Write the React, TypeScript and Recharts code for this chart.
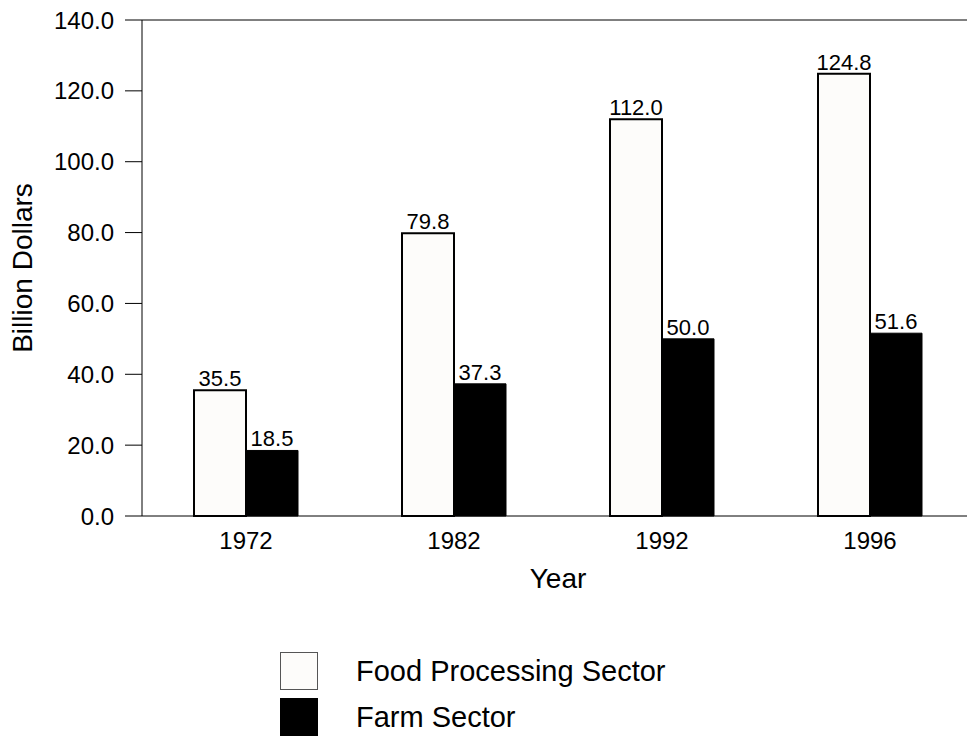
import React from "react";
import {
  BarChart,
  Bar,
  XAxis,
  YAxis,
  LabelList,
  Legend,
  ReferenceLine,
} from "recharts";

const years = ["1972", "1982", "1992", "1996"];
const foodProcessing = [35.5, 79.8, 112.0, 124.8];
const farm = [18.5, 37.3, 50.0, 51.6];
const yTicks = [0, 20, 40, 60, 80, 100, 120, 140];

const chartData = years.map((year, i) => ({
  year,
  food: foodProcessing[i],
  farm: farm[i],
}));

const FONT = "'Liberation Sans', Arial, sans-serif";

const legendItems = [
  { label: "Food Processing Sector", fill: "#fdfcfa", border: "#555" },
  { label: "Farm Sector", fill: "#000", border: "#000" },
];

const LegendBox = () => (
  <div style={{ fontFamily: FONT }}>
    {legendItems.map((item) => (
      <div
        key={item.label}
        style={{ display: "flex", alignItems: "center", height: 46 }}
      >
        <div
          style={{
            width: 36,
            height: 36,
            background: item.fill,
            border: `1px solid ${item.border}`,
          }}
        />
        <span style={{ marginLeft: 38, fontSize: 29, color: "#000" }}>
          {item.label}
        </span>
      </div>
    ))}
  </div>
);

const fmt = (v: number) => v.toFixed(1);

export default function App() {
  return (
    <div
      style={{
        position: "absolute",
        left: 0,
        top: 0,
        width: 967,
        height: 737,
        overflow: "hidden",
        background: "#fff",
        fontFamily: FONT,
      }}
    >
      <BarChart
        width={1000}
        height={737}
        data={chartData}
        margin={{ top: 20, right: 26, left: 0, bottom: 141 }}
        barCategoryGap="25%"
        barGap={0}
      >
        <XAxis
          dataKey="year"
          height={80}
          tickLine={false}
          tickSize={0}
          tickMargin={16}
          axisLine={{ stroke: "#000", strokeWidth: 1 }}
          tick={{ fill: "#000", fontSize: 24, fontFamily: FONT }}
          label={{
            value: "Year",
            position: "insideBottom",
            offset: 8,
            fill: "#000",
            fontSize: 28,
            fontFamily: FONT,
          }}
        />
        <YAxis
          width={142}
          domain={[0, 140]}
          ticks={yTicks}
          tickFormatter={fmt}
          tickSize={17}
          tickMargin={11}
          axisLine={{ stroke: "#000" }}
          tickLine={{ stroke: "#000" }}
          tick={{ fill: "#000", fontSize: 24, fontFamily: FONT }}
          label={{
            value: "Billion Dollars",
            angle: -90,
            position: "insideLeft",
            offset: 22,
            fill: "#000",
            fontSize: 28,
            fontFamily: FONT,
            style: { textAnchor: "middle" },
          }}
        />
        <ReferenceLine y={140} stroke="#000" />
        <Legend
          layout="vertical"
          align="center"
          verticalAlign="middle"
          content={() => <LegendBox />}
          wrapperStyle={{ left: 280, top: 648, width: 560 }}
        />
        <Bar
          dataKey="food"
          name="Food Processing Sector"
          fill="#fdfcfa"
          stroke="#000"
          strokeWidth={2}
          isAnimationActive={false}
        >
          <LabelList
            dataKey="food"
            position="top"
            offset={4}
            formatter={(v: any) => fmt(Number(v))}
            fill="#000"
            fontSize={22}
            fontFamily={FONT}
          />
        </Bar>
        <Bar
          dataKey="farm"
          name="Farm Sector"
          fill="#000"
          stroke="#000"
          strokeWidth={1}
          isAnimationActive={false}
        >
          <LabelList
            dataKey="farm"
            position="top"
            offset={4}
            formatter={(v: any) => fmt(Number(v))}
            fill="#000"
            fontSize={22}
            fontFamily={FONT}
          />
        </Bar>
      </BarChart>
    </div>
  );
}
